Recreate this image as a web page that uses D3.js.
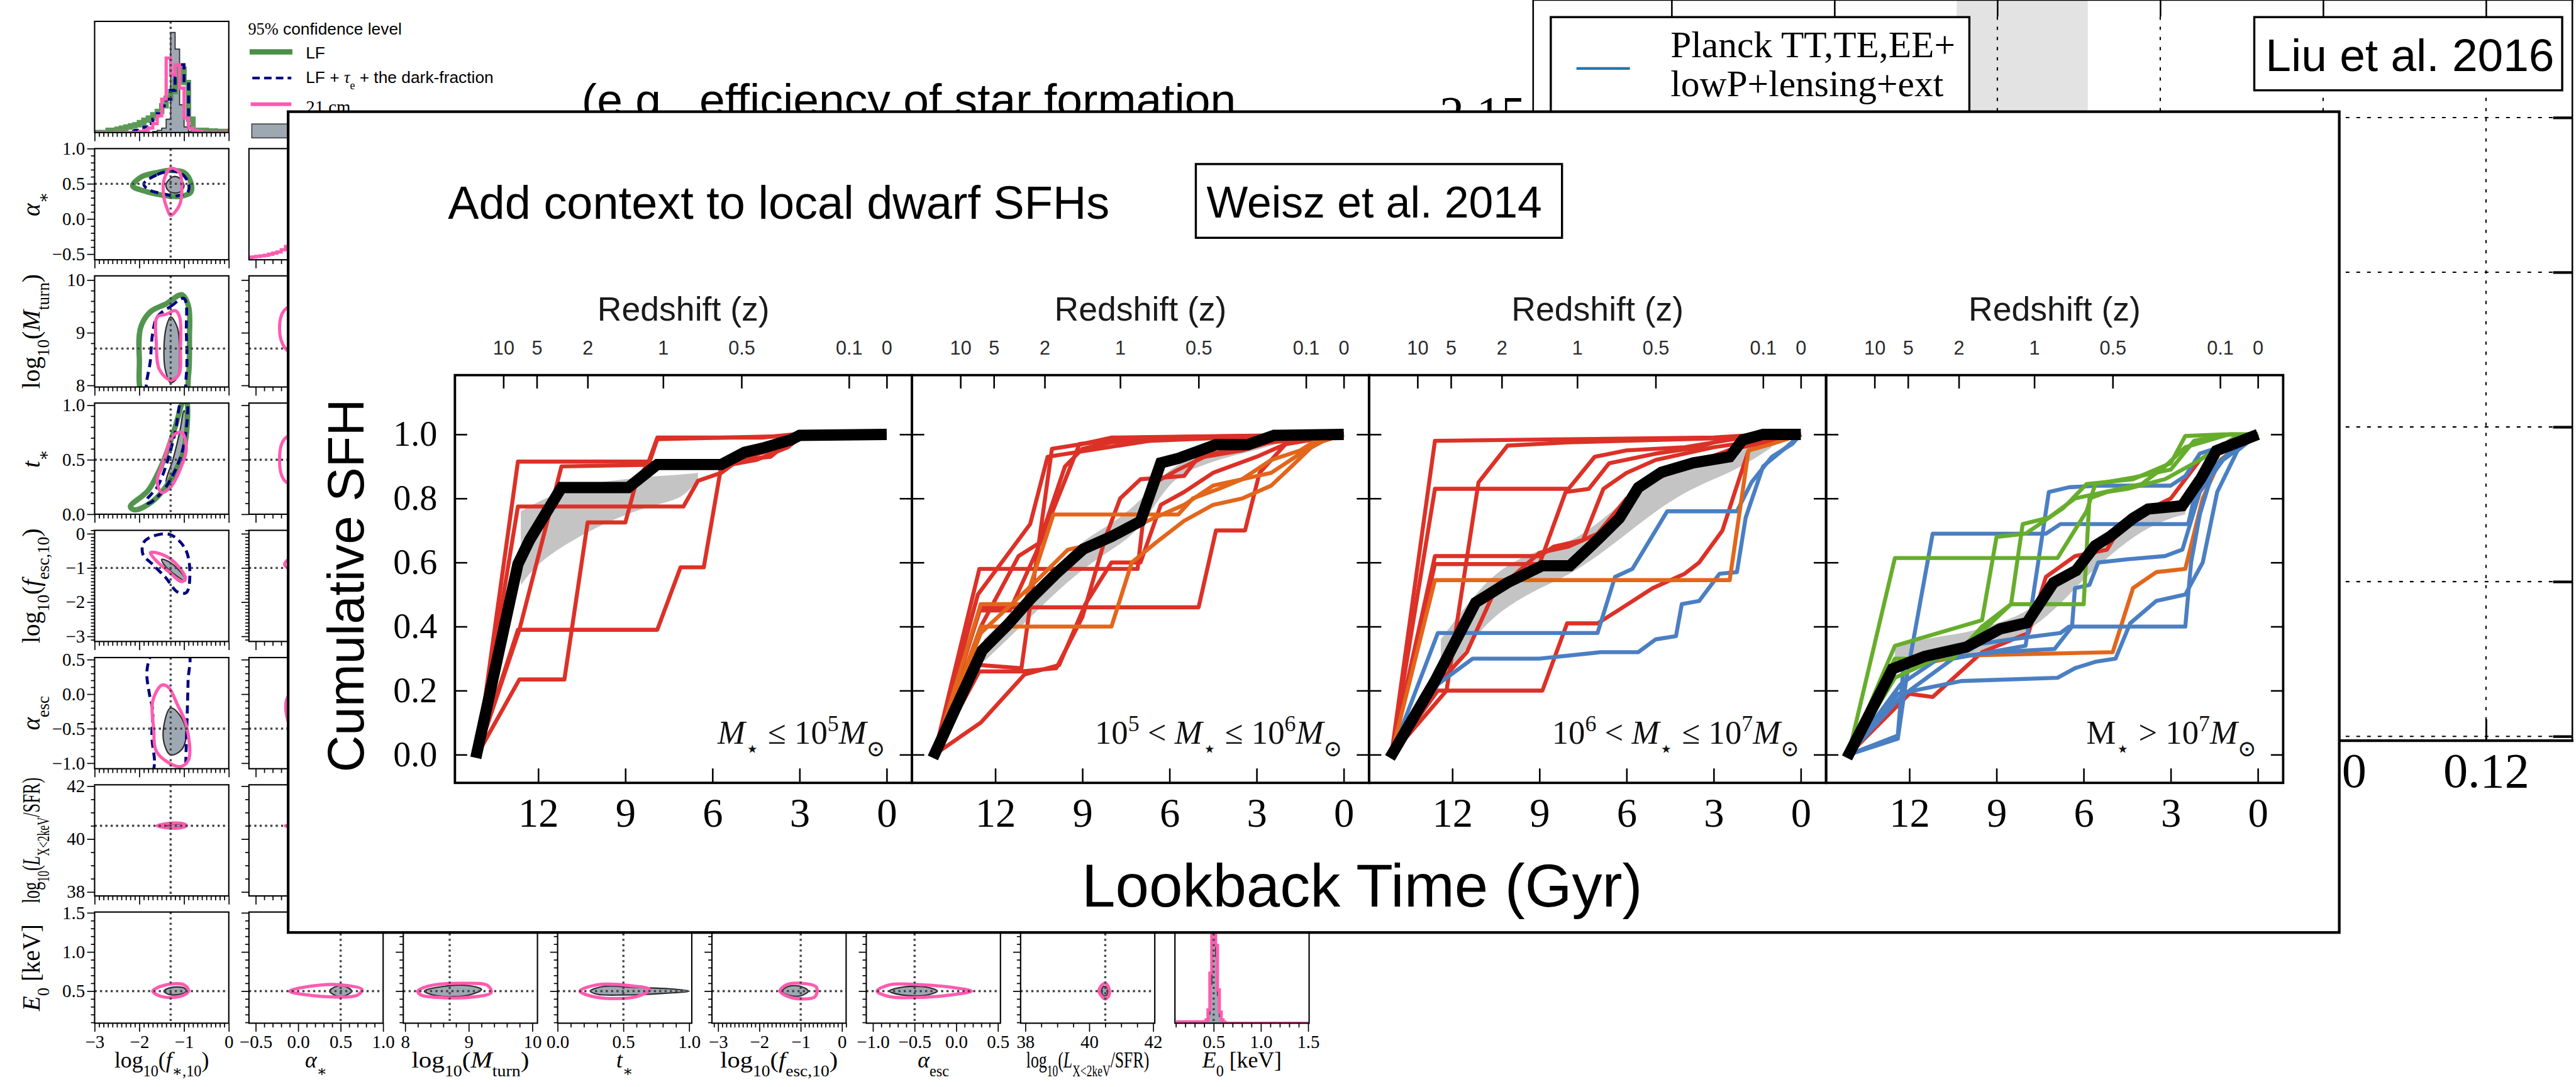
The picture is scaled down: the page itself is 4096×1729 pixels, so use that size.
<!DOCTYPE html>
<html>
<head>
<meta charset="utf-8">
<title>Add context to local dwarf SFHs</title>
<script src="https://cdn.jsdelivr.net/npm/d3@7/dist/d3.min.js"></script>
<style>
  html, body { margin: 0; padding: 0; background: #fff; overflow: hidden; }
  svg { display: block; }
</style>
</head>
<body>
<div id="chart"></div>
<script>
const width = 4096;
const height = 1729;
const scale = 0.85;   // everything below is laid out in the 4814 x 2032 reference units

const SERIF = "'Liberation Serif', 'DejaVu Serif', serif";
const SANS = "'Liberation Sans', Arial, sans-serif";

// ================= SFH panels (Weisz et al. 2014) =================
const gyrTicks = [12, 9, 6, 3, 0];
const sfhTicks = [0, 0.2, 0.4, 0.6, 0.8, 1.0];
const zTickLabels = ["10", "5", "2", "1", "0.5", "0.1", "0"];
const zTickGyr = [13.2, 12.05, 10.3, 7.7, 5.0, 1.3, 0];
const massLabels = [
  "<i>M</i><sub>⋆</sub> ≤ 10<sup>5</sup><i>M</i><sub>⊙</sub>",
  "10<sup>5</sup> &lt; <i>M</i><sub>⋆</sub> ≤ 10<sup>6</sup><i>M</i><sub>⊙</sub>",
  "10<sup>6</sup> &lt; <i>M</i><sub>⋆</sub> ≤ 10<sup>7</sup><i>M</i><sub>⊙</sub>",
  "M<sub>⋆</sub> &gt; 10<sup>7</sup><i>M</i><sub>⊙</sub>"
];

// panel 1: M <= 1e5
const p1Median = [[14.15,-0.01],[12.7,0.595],[12.3,0.67],[11.2,0.834],[8.9,0.834],[7.9,0.906],[5.7,0.906],[4.9,0.944],[4.2,0.959],[3.3,0.983],[3.0,0.997],[0,1.0]];
const p1BandT  = [12.6, 12.0, 11.0, 10.0, 9.0, 8.0, 7.0, 6.5];
const p1BandLo = [0.53, 0.60, 0.66, 0.71, 0.75, 0.78, 0.80, 0.86];
const p1BandHi = [0.76, 0.79, 0.83, 0.85, 0.86, 0.87, 0.875, 0.88];
const p1Red = [
  [[14.1,0],[12.7,0.915],[8.2,0.915],[7.9,0.99],[4.3,0.99],[3.2,1.0],[0,1.0]],
  [[14.1,0],[12.7,0.775],[7.0,0.775],[6.5,0.855],[5.7,0.88],[5.1,0.92],[4.0,0.93],[3.2,0.99],[0,1.0]],
  [[14.1,0],[12.7,0.39],[7.9,0.39],[7.1,0.585],[6.3,0.585],[5.7,0.90],[4.5,0.92],[3.4,0.96],[3.0,0.99],[0,1.0]],
  [[14.1,0],[12.65,0.235],[11.1,0.235],[10.3,0.725],[9.0,0.725],[8.6,0.86],[8.2,0.91],[6.0,0.91],[4.8,0.93],[3.6,0.96],[3.0,0.99],[0,1.0]],
  [[14.1,0],[12.65,0.39],[11.2,0.90],[8.2,0.905],[7.9,0.985],[3.3,0.995],[0,1.0]]
];

// panel 2: 1e5 < M <= 1e6
const p2Median = [[14.15,-0.01],[12.45,0.326],[11.6,0.403],[10.76,0.489],[9.9,0.566],[8.97,0.642],[8.0,0.681],[7.0,0.729],[6.3,0.911],[5.7,0.925],[4.4,0.968],[3.3,0.968],[2.4,0.997],[0,1.0]];
const p2BandT  = [12.4, 11, 10, 9, 8, 7, 6, 5, 4, 3, 2];
const p2BandLo = [0.29, 0.41, 0.50, 0.58, 0.64, 0.70, 0.86, 0.90, 0.93, 0.95, 0.98];
const p2BandHi = [0.36, 0.48, 0.58, 0.67, 0.72, 0.79, 0.90, 0.93, 0.96, 0.97, 0.99];
const p2Red = [
  [[14.1,0],[12.55,0.58],[7.1,0.58],[6.9,0.74],[6.5,0.85],[5.7,0.89],[4.8,0.93],[3.5,0.95],[2.0,0.99],[0,1.0]],
  [[14.1,0],[12.55,0.26],[11.1,0.26],[9.9,0.27],[9.0,0.43],[8.2,0.68],[7.7,0.80],[7.0,0.86],[5.5,0.87],[5.0,0.93],[3.0,0.97],[1.0,0.99],[0,1.0]],
  [[14.1,0],[12.55,0.28],[11.1,0.27],[10.05,0.955],[9.0,0.97],[8.0,0.99],[0,1.0]],
  [[14.1,0],[12.55,0.45],[11.5,0.45],[10.6,0.63],[9.1,0.97],[7.0,0.99],[0,1.0]],
  [[14.1,0],[12.5,0.46],[5.0,0.46],[4.4,0.70],[3.4,0.70],[2.9,0.88],[2.0,0.97],[0,1.0]],
  [[14.1,0],[12.5,0.10],[11.0,0.25],[9.8,0.28],[8.9,0.47],[8.0,0.60],[7.0,0.60],[6.3,0.78],[5.5,0.82],[4.5,0.88],[3.0,0.93],[2.0,0.97],[0,1.0]],
  [[14.1,0],[12.5,0.40],[11.2,0.62],[10.5,0.66],[9.6,0.90],[9.0,0.955],[8.0,0.975],[4.0,0.99],[0,1.0]],
  [[14.1,0],[12.6,0.50],[10.8,0.72],[10.2,0.93],[6.0,0.99],[0,1.0]]
];
const p2Orange = [
  [[14.1,0],[12.5,0.47],[11.0,0.47],[10.0,0.75],[5.7,0.75],[5.2,0.80],[4.3,0.83],[3.5,0.86],[2.5,0.92],[1.5,0.95],[0.8,0.99],[0,1.0]],
  [[14.1,0],[12.5,0.40],[8.0,0.40],[7.3,0.60],[6.5,0.66],[5.5,0.73],[4.5,0.78],[3.5,0.80],[2.5,0.84],[1.8,0.90],[1.0,0.97],[0,1.0]],
  [[14.1,0],[12.5,0.38],[10.5,0.55],[9.5,0.64],[8.5,0.66],[7.5,0.70],[6.5,0.74],[5.5,0.78],[4.5,0.84],[3.5,0.86],[2.5,0.88],[1.5,0.94],[0.7,0.98],[0,1.0]]
];

// panel 3: 1e6 < M <= 1e7
const p3Median = [[14.15,-0.01],[12.6,0.23],[11.2,0.475],[10.1,0.537],[8.9,0.59],[7.95,0.59],[7.0,0.671],[6.25,0.738],[5.6,0.834],[4.8,0.882],[3.7,0.911],[2.45,0.93],[2.0,0.983],[1.3,1.0],[0,1.0]];
const p3BandT  = [12.4, 11, 10, 9, 8, 7, 6, 5, 4, 3, 2, 1];
const p3BandLo = [0.22, 0.40, 0.47, 0.52, 0.56, 0.62, 0.69, 0.76, 0.82, 0.86, 0.90, 0.96];
const p3BandHi = [0.36, 0.53, 0.60, 0.64, 0.66, 0.72, 0.80, 0.86, 0.89, 0.92, 0.95, 0.99];
const p3Red = [
  [[14.1,0],[12.6,0.98],[8.0,0.985],[3.0,0.99],[1.3,1.0],[0,1.0]],
  [[14.1,0],[12.6,0.83],[8.0,0.83],[7.1,0.93],[6.0,0.95],[4.0,0.96],[2.0,0.99],[0,1.0]],
  [[14.1,0],[12.2,0.20],[11.1,0.85],[10.1,0.965],[8.0,0.975],[2.0,0.99],[0,1.0]],
  [[14.1,0],[12.6,0.595],[9.0,0.595],[8.1,0.82],[7.3,0.83],[6.6,0.91],[5.0,0.94],[3.5,0.96],[2.5,0.99],[0,1.0]],
  [[14.1,0],[12.5,0.20],[8.9,0.20],[8.05,0.41],[7.0,0.41],[6.3,0.45],[5.1,0.52],[4.0,0.565],[3.5,0.60],[2.7,0.70],[2.2,0.84],[1.8,0.95],[0,1.0]],
  [[14.1,0],[12.5,0.22],[11.5,0.32],[10.6,0.50],[10.0,0.55],[9.0,0.63],[8.0,0.65],[7.0,0.69],[6.0,0.80],[5.0,0.86],[4.0,0.90],[2.5,0.95],[0,1.0]],
  [[14.1,0],[12.6,0.62],[9.0,0.62],[8.5,0.65],[7.5,0.67],[6.8,0.83],[6.0,0.88],[5.0,0.92],[3.0,0.96],[0,1.0]]
];
const p3Orange = [
  [[14.1,0],[12.6,0.545],[2.45,0.545],[1.8,0.95],[1.0,0.97],[0,1.0]]
];
const p3Blue = [
  [[14.1,0],[12.5,0.38],[7.0,0.38],[6.4,0.555],[5.8,0.58],[4.6,0.76],[2.2,0.76],[1.7,0.85],[1.0,0.93],[0.3,0.97],[0,1.0]],
  [[14.1,0],[12.5,0.22],[11.3,0.30],[9.0,0.30],[6.9,0.32],[5.6,0.32],[5.0,0.36],[4.3,0.37],[4.1,0.47],[3.5,0.48],[2.8,0.565],[2.2,0.57],[1.9,0.74],[1.3,0.90],[0.5,0.96],[0,1.0]]
];

// panel 4: M > 1e7
const p4Median = [[14.15,-0.01],[12.58,0.268],[11.47,0.307],[10.04,0.336],[8.87,0.393],[7.95,0.412],[7.04,0.537],[6.26,0.575],[5.61,0.652],[5.09,0.681],[4.3,0.738],[3.78,0.767],[2.61,0.777],[1.96,0.863],[1.43,0.949],[0,1.0]];
const p4BandT  = [12.5, 11, 10, 9, 8, 7, 6, 5, 4, 3, 2.5];
const p4BandLo = [0.27, 0.30, 0.31, 0.34, 0.38, 0.45, 0.55, 0.63, 0.70, 0.74, 0.75];
const p4BandHi = [0.34, 0.37, 0.38, 0.41, 0.44, 0.52, 0.62, 0.71, 0.76, 0.79, 0.80];
const p4Blue = [
  [[14.1,0],[12.4,0.05],[12.1,0.24],[11.2,0.69],[7.3,0.69],[6.8,0.72],[2.4,0.72],[2.2,0.80],[1.5,0.90],[0.5,0.98],[0,1.0]],
  [[14.1,0],[12.4,0.19],[10.2,0.23],[6.9,0.24],[6.3,0.27],[5.6,0.29],[4.9,0.30],[4.4,0.41],[3.5,0.48],[2.5,0.50],[1.9,0.60],[1.4,0.82],[0.7,0.95],[0,1.0]],
  [[14.1,0],[12.3,0.22],[11.0,0.30],[9.0,0.32],[7.0,0.33],[6.4,0.40],[6.3,0.52],[5.8,0.53],[5.5,0.60],[4.5,0.61],[3.2,0.62],[2.6,0.64],[2.0,0.82],[1.2,0.92],[0,1.0]],
  [[14.1,0],[12.3,0.18],[10.5,0.30],[8.0,0.34],[7.2,0.82],[6.5,0.835],[5.5,0.84],[3.0,0.84],[2.5,0.87],[2.0,0.94],[1.0,0.97],[0,1.0]],
  [[14.1,0],[12.4,0.06],[12.2,0.28],[10.0,0.34],[8.5,0.36],[6.8,0.38],[6.5,0.40],[2.5,0.40],[2.3,0.60],[2.0,0.75],[1.5,0.90],[0.6,0.97],[0,1.0]]
];
const p4Orange = [
  [[14.1,0],[12.5,0.27],[10.0,0.31],[5.0,0.32],[4.3,0.52],[3.5,0.57],[2.5,0.58],[1.9,0.80],[1.3,0.92],[0.3,0.99],[0,1.0]]
];
const p4Red = [
  [[14.1,0],[12.0,0.19],[11.2,0.18],[9.5,0.32],[7.9,0.38],[7.3,0.555],[6.3,0.62],[5.2,0.64],[4.6,0.73],[3.0,0.80],[2.0,0.92],[1.2,0.97],[0,1.0]]
];
const p4Green = [
  [[14.1,0],[12.5,0.614],[6.9,0.614],[5.9,0.76],[5.6,0.845],[4.3,0.865],[3.0,0.89],[2.2,0.98],[1.0,1.0],[0,1.0]],
  [[14.1,0],[12.5,0.34],[9.5,0.42],[9.0,0.68],[8.0,0.69],[6.7,0.77],[5.9,0.845],[4.3,0.86],[3.0,0.91],[2.5,0.995],[1.2,1.0],[0,1.0]],
  [[14.1,0],[12.5,0.24],[9.9,0.35],[8.5,0.47],[8.1,0.72],[7.2,0.74],[6.3,0.80],[4.0,0.845],[3.2,0.90],[2.5,0.96],[1.0,1.0],[0,1.0]],
  [[14.1,0],[12.5,0.30],[10.5,0.30],[9.5,0.40],[8.5,0.47],[6.0,0.47],[5.8,0.80],[5.2,0.82],[4.5,0.83],[3.2,0.86],[2.0,0.92],[0.8,0.99],[0,1.0]]
];

// ================= corner plot (background, left) =================
const cornerDomains = [[-3, 0], [-0.58, 1.0], [7.97, 10.08], [0, 1.02], [-3.15, 0.1], [-1.08, 0.53], [37.85, 42.05], [0.09, 1.51]];
const cornerTruth = [-1.3, 0.5, 8.7, 0.5, -1, -0.5, 40.5, 0.5];
const cornerMajor = [[-3, -2, -1, 0], [-0.5, 0, 0.5, 1.0], [8, 9, 10], [0, 0.5, 1.0], [-3, -2, -1, 0], [-1, -0.5, 0, 0.5], [38, 40, 42], [0.5, 1.0, 1.5]];
const cornerMinorStep = [0.1, 0.1, 0.2, 0.1, 0.1, 0.1, 0.5, 0.1];
const cornerTickFmt = ["d", ".1f", "d", ".1f", "d", ".1f", "d", ".1f"];
const cornerAxisLabels = [
  "log<sub>10</sub>(<i>f</i><sub>∗,10</sub>)",
  "<i>α</i><sub>∗</sub>",
  "log<sub>10</sub>(<i>M</i><sub>turn</sub>)",
  "<i>t</i><sub>∗</sub>",
  "log<sub>10</sub>(<i>f</i><sub>esc,10</sub>)",
  "<i>α</i><sub>esc</sub>",
  "log<sub>10</sub>(<i>L</i><sub>X&lt;2keV</sub>/SFR)",
  "<i>E</i><sub>0</sub> [keV]"
];

// marginal histograms
const fstarGreen = [0,0,0,0.02,0.02,0.03,0.04,0.05,0.06,0.07,0.09,0.11,0.13,0.16,0.19,0.24,0.31,0.37,0.46,0.57,0.45,0.12,0.02,0.02,0.02,0.015,0.015,0.01,0.01,0.01];
const fstarNavy  = [0,0,0,0,0,0,0,0,0.01,0.02,0.03,0.05,0.08,0.12,0.17,0.24,0.30,0.38,0.50,0.61,0.45,0.05,0.01,0,0,0,0,0,0,0];
const fstarPink  = [0,0,0,0,0,0,0,0,0,0,0.01,0.02,0.04,0.08,0.15,0.30,0.67,0.52,0.61,0.40,0.13,0.04,0.02,0.01,0,0,0,0,0,0];
const fstarGray  = [0,0,0,0,0,0,0,0,0,0,0,0,0,0.01,0.02,0.04,0.12,0.90,0.75,0.25,0.05,0.01,0,0,0,0,0,0,0,0];
const alphaPink  = [0.02,0.025,0.03,0.035,0.04,0.05,0.06,0.07,0.09,0.12,0.16,0.22,0.30,0.40,0.55,0.70,0.85,0.90,0.80,0.60,0.40,0.25,0.15,0.08,0.05,0.03,0.02,0.01,0.01,0.01,0.01,0.01];
const e0Edges = [0.10, 0.42, 0.44, 0.46, 0.48, 0.50, 0.52, 0.54, 0.56, 0.58, 0.60, 0.62, 1.50];
const e0Gray  = [0, 0.02, 0.08, 0.35, 0.95, 1.0, 0.6, 0.25, 0.06, 0.02, 0, 0];
const e0Pink  = [0.012, 0.03, 0.12, 0.45, 1.0, 0.95, 0.7, 0.3, 0.1, 0.03, 0.01, 0];

// 2D 95% contours, [x, y] in data units
const asGreen = [[-2.15,0.47],[-1.95,0.6],[-1.6,0.66],[-1.3,0.69],[-1.0,0.66],[-0.85,0.52],[-0.85,0.38],[-1.1,0.32],[-1.5,0.34],[-1.9,0.4]];
const asNavy  = [[-1.9,0.5],[-1.6,0.63],[-1.3,0.68],[-1.05,0.64],[-0.9,0.5],[-0.92,0.38],[-1.15,0.33],[-1.5,0.36],[-1.8,0.42]];
const asPink  = [[-1.45,0.55],[-1.3,0.72],[-1.1,0.66],[-1.05,0.45],[-1.1,0.2],[-1.3,0.05],[-1.38,0.15],[-1.45,0.3]];
const asGray  = [[-1.4,0.5],[-1.25,0.6],[-1.1,0.58],[-1.0,0.47],[-1.1,0.38],[-1.3,0.38],[-1.4,0.45]];
const mtGreen = [[-1.75,9.4],[-1.4,9.55],[-1.05,9.72],[-0.9,9.5],[-0.88,8.9],[-0.9,8.2],[-1.0,7.8],[-1.9,7.8],[-2.0,8.5],[-1.97,9.1]];
const mtNavy  = [[-1.6,9.3],[-1.3,9.5],[-1.0,9.65],[-0.95,9.0],[-0.95,8.2],[-1.05,7.8],[-1.8,7.8],[-1.75,8.5],[-1.7,9.0]];
const mtPink  = [[-1.6,9.3],[-1.4,9.35],[-1.2,9.42],[-1.1,9.3],[-1.08,8.7],[-1.12,8.2],[-1.3,8.1],[-1.55,8.3],[-1.62,8.8]];
const mtGray  = [[-1.4,9.1],[-1.3,9.3],[-1.15,9.1],[-1.1,8.6],[-1.15,8.15],[-1.3,8.05],[-1.42,8.3],[-1.45,8.7]];
const tsGreen = [[-2.2,0.07],[-1.8,0.22],[-1.45,0.5],[-1.2,0.8],[-1.0,1.05],[-0.95,1.05],[-1.0,0.6],[-1.3,0.32],[-1.7,0.12],[-2.1,0.04]];
const tsNavy  = [[-1.85,0.12],[-1.6,0.25],[-1.4,0.45],[-1.2,0.75],[-1.05,1.05],[-0.95,1.05],[-1.0,0.65],[-1.2,0.4],[-1.5,0.2],[-1.8,0.1]];
const tsPink  = [[-1.6,0.3],[-1.45,0.5],[-1.25,0.72],[-1.05,0.75],[-0.95,0.6],[-1.05,0.45],[-1.3,0.25],[-1.5,0.2]];
const tsGray  = [[-1.4,0.3],[-1.25,0.5],[-1.1,0.75],[-1.0,0.95],[-0.95,0.9],[-1.0,0.6],[-1.15,0.38],[-1.35,0.28]];
const feNavy  = [[-1.9,-0.25],[-1.65,-0.05],[-1.3,-0.03],[-0.97,-0.45],[-0.87,-1.15],[-0.95,-1.72],[-1.15,-1.7],[-1.4,-1.3],[-1.7,-0.9],[-1.92,-0.6]];
const fePink  = [[-1.75,-0.55],[-1.5,-0.6],[-1.2,-0.85],[-0.97,-1.3],[-1.05,-1.4],[-1.35,-1.1],[-1.65,-0.75]];
const feGray  = [[-1.5,-0.75],[-1.3,-0.85],[-1.0,-1.25],[-0.97,-1.38],[-1.2,-1.2],[-1.45,-0.9]];
const aeNavy  = [[-1.66,-1.2],[-1.66,-0.96],[-1.72,-0.62],[-1.7,-0.24],[-1.78,0.02],[-1.83,0.34],[-1.7,0.6],[-1.3,0.75],[-0.9,0.6],[-0.91,0.2],[-0.93,-0.3],[-0.96,-0.96],[-0.96,-1.2],[-1.3,-1.35]];
const aePink  = [[-1.7,-0.1],[-1.5,0.13],[-1.35,0.1],[-1.15,-0.15],[-0.95,-0.45],[-0.9,-0.95],[-1.1,-1.05],[-1.6,-0.85],[-1.68,-0.5]];
const aeGray  = [[-1.45,-0.45],[-1.3,-0.2],[-1.1,-0.3],[-0.95,-0.55],[-1.05,-0.8],[-1.3,-0.88],[-1.45,-0.7]];
const lxPink  = [[-1.6,40.5],[-1.3,40.6],[-1.0,40.57],[-0.95,40.5],[-1.1,40.42],[-1.4,40.43]];
const lxGray  = [[-1.4,40.5],[-1.2,40.56],[-1.05,40.53],[-1.1,40.46],[-1.35,40.46]];
const e0fsPink = [[-1.7,0.5],[-1.4,0.58],[-1.0,0.58],[-0.9,0.5],[-1.1,0.43],[-1.5,0.43]];
const e0fsGray = [[-1.45,0.5],[-1.3,0.545],[-1.0,0.54],[-0.95,0.5],[-1.1,0.46],[-1.35,0.46]];
const amPink  = [[-0.22,9.1],[-0.15,9.45],[0.2,9.55],[0.6,9.4],[0.8,9.0],[0.6,8.5],[0.2,8.4],[-0.15,8.7]];
const atPink  = [[-0.22,0.5],[-0.15,0.7],[0.2,0.75],[0.6,0.7],[0.8,0.5],[0.6,0.3],[0.2,0.25],[-0.15,0.3]];
const afPink  = [[-0.16,-0.9],[0,-0.6],[0.4,-0.55],[0.8,-0.8],[0.85,-1.1],[0.5,-1.3],[0.1,-1.2]];
const aaPink  = [[-0.14,-0.1],[0.05,0.15],[0.5,0.2],[0.85,-0.2],[0.8,-0.8],[0.4,-0.95],[0,-0.7]];
const alPink  = [[-0.15,40.5],[0.3,40.6],[0.8,40.55],[0.8,40.45],[0.3,40.4]];
const aePinkE0 = [[-0.1,0.5],[0.2,0.57],[0.5,0.58],[0.75,0.52],[0.7,0.45],[0.3,0.43]];
const aeGrayE0 = [[0.37,0.5],[0.45,0.56],[0.55,0.56],[0.63,0.5],[0.55,0.44],[0.45,0.44]];
const mePink = [[8.2,0.5],[8.4,0.57],[8.9,0.6],[9.3,0.57],[9.35,0.48],[9.0,0.42],[8.5,0.42],[8.25,0.45]];
const meGray = [[8.3,0.5],[8.6,0.56],[9.0,0.57],[9.2,0.52],[9.0,0.45],[8.5,0.44]];
const tePink = [[0.17,0.5],[0.3,0.58],[0.55,0.57],[0.7,0.52],[0.6,0.43],[0.3,0.42]];
const teGray = [[0.25,0.5],[0.35,0.56],[0.6,0.545],[0.85,0.53],[1.0,0.5],[0.8,0.47],[0.5,0.45],[0.3,0.46]];
const fePinkE0 = [[-1.5,0.5],[-1.35,0.58],[-1.0,0.6],[-0.62,0.55],[-0.65,0.43],[-1.0,0.4],[-1.35,0.44]];
const feGrayE0 = [[-1.45,0.5],[-1.3,0.56],[-1.0,0.56],[-0.82,0.5],[-1.0,0.44],[-1.3,0.45]];
const aeEsPinkE0 = [[-0.95,0.5],[-0.8,0.58],[-0.4,0.58],[0.0,0.54],[0.18,0.5],[0.0,0.46],[-0.4,0.42],[-0.8,0.43]];
const aeEsGrayE0 = [[-0.8,0.5],[-0.65,0.55],[-0.35,0.55],[-0.23,0.5],[-0.35,0.45],[-0.65,0.45]];
const lePink = [[40.3,0.5],[40.4,0.58],[40.5,0.6],[40.6,0.55],[40.62,0.45],[40.5,0.4],[40.4,0.43]];
const leGray = [[40.38,0.5],[40.45,0.56],[40.55,0.55],[40.58,0.5],[40.55,0.45],[40.45,0.44]];

// ================= Planck plot (background, right) =================
const planckXTicks = [0.02, 0.04, 0.06, 0.08, 0.10, 0.12];
const planckYTicks = [2.15, 2.10, 2.05, 2.00, 1.95];
const planckBand = [0.055, 0.0711];

// ---------------------------------------------------------------
const svg = d3.select("#chart").append("svg")
    .attr("width", width)
    .attr("height", height);
const defs = svg.append("defs");
svg.append("rect").attr("width", width).attr("height", height).attr("fill", "#fff");
const root = svg.append("g").attr("transform", `scale(${scale})`);

const colors = {
  red: "#dc3127", orange: "#e2661b", blue: "#4a7fc2", green: "#66ad2c",
  lf: "#4a8f46", navy: "#000080", pink: "#ff5bb0", gray: "#9ea8b2"
};

// small markup -> tspans
function rich(s) {
  return s
    .replace(/<sub>/g, '<tspan font-size="68%" baseline-shift="sub">')
    .replace(/<sup>/g, '<tspan font-size="68%" baseline-shift="super">')
    .replace(/<\/sub>|<\/sup>/g, "</tspan>")
    .replace(/<i>/g, '<tspan font-style="italic">')
    .replace(/<\/i>/g, "</tspan>");
}

function tidyAxis(sel, size, family, strokeW) {
  sel.attr("font-size", size).attr("font-family", family);
  sel.select(".domain").remove();
  sel.selectAll(".tick line").attr("stroke", "#000").attr("stroke-width", strokeW);
  sel.selectAll(".tick text").attr("fill", "#000");
  // drop the empty label nodes of unlabelled axes
  sel.selectAll(".tick text").filter(function () { return this.textContent === ""; }).remove();
}

// ================= corner plot =================
const corner = root.append("g");
const PW = 251, PH = 208;
const colLeft = i => 177 + 288.7 * i;
const rowTop = j => 40 + 238.1 * j;

function cornerPanel(r, c) {
  const x0 = colLeft(c), y0 = rowTop(r);
  const xs = d3.scaleLinear().domain(cornerDomains[c]).range([x0, x0 + PW]);
  const ys = r === c
    ? d3.scaleLinear().domain([0, 1]).range([y0 + PH, y0])
    : d3.scaleLinear().domain(cornerDomains[r]).range([y0 + PH, y0]);
  const id = `cp${r}${c}`;
  defs.append("clipPath").attr("id", id)
    .append("rect").attr("x", x0).attr("y", y0).attr("width", PW).attr("height", PH);
  const g = corner.append("g");
  const inner = g.append("g").attr("clip-path", `url(#${id})`);
  return { r, c, x0, y0, xs, ys, g, inner };
}

function cornerFrame(p) {
  const { r, c, x0, y0, xs, ys, g } = p;
  // truth crosshairs
  const dot = g.append("g").attr("stroke", "#444").attr("stroke-width", 4).attr("stroke-dasharray", "4,6");
  dot.append("line").attr("x1", xs(cornerTruth[c])).attr("x2", xs(cornerTruth[c])).attr("y1", y0).attr("y2", y0 + PH);
  if (r !== c) {
    dot.append("line").attr("x1", x0).attr("x2", x0 + PW).attr("y1", ys(cornerTruth[r])).attr("y2", ys(cornerTruth[r]));
  }
  g.append("rect").attr("x", x0).attr("y", y0).attr("width", PW).attr("height", PH)
    .attr("fill", "none").attr("stroke", "#000").attr("stroke-width", 2.5);

  const minorOf = i => {
    const [a, b] = cornerDomains[i], st = cornerMinorStep[i];
    return d3.range(Math.ceil(a / st - 1e-9) * st, b + 1e-9, st)
      .map(v => +v.toFixed(3))
      .filter(v => !cornerMajor[i].some(m => Math.abs(m - v) < 1e-6));
  };

  // bottom
  const bottomMinor = g.append("g").attr("transform", `translate(0,${y0 + PH})`)
    .call(d3.axisBottom(xs).tickValues(minorOf(c)).tickSize(8).tickFormat(""));
  tidyAxis(bottomMinor, 34, SERIF, 2);
  const bottom = g.append("g").attr("transform", `translate(0,${y0 + PH})`)
    .call(d3.axisBottom(xs).tickValues(cornerMajor[c]).tickSize(16).tickPadding(6)
      .tickFormat(r === 7 ? d3.format(cornerTickFmt[c]) : ""));
  tidyAxis(bottom, 34, SERIF, 2);

  if (r !== c) {
    const leftMinor = g.append("g").attr("transform", `translate(${x0},0)`)
      .call(d3.axisLeft(ys).tickValues(minorOf(r)).tickSize(7).tickFormat(""));
    tidyAxis(leftMinor, 34, SERIF, 2);
    const left = g.append("g").attr("transform", `translate(${x0},0)`)
      .call(d3.axisLeft(ys).tickValues(cornerMajor[r]).tickSize(14).tickPadding(4)
        .tickFormat(c === 0 ? d3.format(cornerTickFmt[r]) : ""));
    tidyAxis(left, 34, SERIF, 2);
  }

  if (r === 7) {
    const t = corner.append("text")
      .attr("x", x0 + PW / 2).attr("y", 1998)
      .attr("text-anchor", "middle").attr("font-family", SERIF).attr("font-size", 42)
      .html(rich(cornerAxisLabels[c]));
    if (c === 6) t.attr("textLength", 230).attr("lengthAdjust", "spacingAndGlyphs");
    if (c === 2 || c === 4) t.attr("textLength", 220).attr("lengthAdjust", "spacingAndGlyphs");
  }
  if (c === 0 && r > 0) {
    const t = corner.append("text")
      .attr("transform", `translate(74,${y0 + PH / 2}) rotate(-90)`)
      .attr("text-anchor", "middle").attr("font-family", SERIF).attr("font-size", 46)
      .html(rich(cornerAxisLabels[r]));
    if (r === 6) t.attr("textLength", 235).attr("lengthAdjust", "spacingAndGlyphs");
    if (r === 2 || r === 4) t.attr("textLength", 215).attr("lengthAdjust", "spacingAndGlyphs");
  }
}

function drawContour(p, pts, kind) {
  const line = d3.line().x(d => p.xs(d[0])).y(d => p.ys(d[1])).curve(d3.curveCatmullRomClosed.alpha(0.5));
  const path = p.inner.append("path").attr("d", line(pts));
  if (kind === "gray") {
    path.attr("fill", colors.gray).attr("stroke", "#2b2b2b").attr("stroke-width", 2.5);
  } else if (kind === "green") {
    path.attr("fill", "none").attr("stroke", colors.lf).attr("stroke-width", 10).attr("stroke-opacity", 0.95);
  } else if (kind === "navy") {
    path.attr("fill", "none").attr("stroke", colors.navy).attr("stroke-width", 5.5).attr("stroke-dasharray", "15,9");
  } else {
    path.attr("fill", "none").attr("stroke", colors.pink).attr("stroke-width", 6);
  }
}

function drawHist(p, edges, vals, kind) {
  const pts = vals.map((v, i) => [edges[i], v]);
  pts.push([edges[edges.length - 1], vals[vals.length - 1]]);
  if (kind === "gray") {
    const area = d3.area().x(d => p.xs(d[0])).y0(p.ys(0)).y1(d => p.ys(d[1])).curve(d3.curveStepAfter);
    p.inner.append("path").attr("d", area(pts)).attr("fill", colors.gray)
      .attr("stroke", "#2b2b2b").attr("stroke-width", 2);
    return;
  }
  const line = d3.line().x(d => p.xs(d[0])).y(d => p.ys(d[1])).curve(d3.curveStepAfter);
  const path = p.inner.append("path").attr("d", line(pts)).attr("fill", "none");
  if (kind === "green") path.attr("stroke", colors.lf).attr("stroke-width", 10).attr("stroke-opacity", 0.9);
  else if (kind === "navy") path.attr("stroke", colors.navy).attr("stroke-width", 5.5).attr("stroke-dasharray", "15,9");
  else path.attr("stroke", colors.pink).attr("stroke-width", 6);
}

const fstarEdges = d3.range(31).map(i => -3 + 0.1 * i);
const alphaEdges = d3.range(33).map(i => -0.6 + 0.05 * i);

const contourTable = [
  [1, 0, [[asGray, "gray"], [asGreen, "green"], [asNavy, "navy"], [asPink, "pink"]]],
  [2, 0, [[mtGray, "gray"], [mtGreen, "green"], [mtNavy, "navy"], [mtPink, "pink"]]],
  [3, 0, [[tsGray, "gray"], [tsGreen, "green"], [tsNavy, "navy"], [tsPink, "pink"]]],
  [4, 0, [[feGray, "gray"], [feNavy, "navy"], [fePink, "pink"]]],
  [5, 0, [[aeGray, "gray"], [aeNavy, "navy"], [aePink, "pink"]]],
  [6, 0, [[lxGray, "gray"], [lxPink, "pink"]]],
  [7, 0, [[e0fsGray, "gray"], [e0fsPink, "pink"]]],
  [2, 1, [[amPink, "pink"]]],
  [3, 1, [[atPink, "pink"]]],
  [4, 1, [[afPink, "pink"]]],
  [5, 1, [[aaPink, "pink"]]],
  [6, 1, [[alPink, "pink"]]],
  [7, 1, [[aeGrayE0, "gray"], [aePinkE0, "pink"]]],
  [7, 2, [[meGray, "gray"], [mePink, "pink"]]],
  [7, 3, [[teGray, "gray"], [tePink, "pink"]]],
  [7, 4, [[feGrayE0, "gray"], [fePinkE0, "pink"]]],
  [7, 5, [[aeEsGrayE0, "gray"], [aeEsPinkE0, "pink"]]],
  [7, 6, [[leGray, "gray"], [lePink, "pink"]]]
];

// diagonal panels
const h0 = cornerPanel(0, 0);
drawHist(h0, fstarEdges, fstarGray, "gray");
drawHist(h0, fstarEdges, fstarGreen, "green");
drawHist(h0, fstarEdges, fstarNavy, "navy");
drawHist(h0, fstarEdges, fstarPink, "pink");
cornerFrame(h0);

const h1 = cornerPanel(1, 1);
drawHist(h1, alphaEdges, alphaPink, "pink");
cornerFrame(h1);

const h7 = cornerPanel(7, 7);
drawHist(h7, e0Edges, e0Gray, "gray");
drawHist(h7, e0Edges, e0Pink, "pink");
cornerFrame(h7);

contourTable.forEach(([r, c, list]) => {
  const p = cornerPanel(r, c);
  list.forEach(([pts, kind]) => drawContour(p, pts, kind));
  cornerFrame(p);
});

// corner legend
const leg = corner.append("g").attr("font-family", SANS).attr("font-size", 31);
leg.append("text").attr("x", 464).attr("y", 65)
  .html('<tspan font-family="Liberation Serif">95%</tspan> confidence level');
leg.append("line").attr("x1", 467).attr("x2", 547).attr("y1", 97).attr("y2", 97)
  .attr("stroke", colors.lf).attr("stroke-width", 10);
leg.append("text").attr("x", 572).attr("y", 109).text("LF");
leg.append("line").attr("x1", 472).attr("x2", 545).attr("y1", 146).attr("y2", 146)
  .attr("stroke", colors.navy).attr("stroke-width", 5).attr("stroke-dasharray", "14,8");
leg.append("text").attr("x", 572).attr("y", 155)
  .html('LF + <tspan font-family="Liberation Serif" font-style="italic">τ</tspan><tspan font-family="Liberation Serif" font-size="68%" baseline-shift="sub">e</tspan> + the dark-fraction');
leg.append("line").attr("x1", 469).attr("x2", 545).attr("y1", 195).attr("y2", 195)
  .attr("stroke", colors.pink).attr("stroke-width", 7);
leg.append("text").attr("x", 572).attr("y", 212).attr("font-family", SERIF).attr("font-size", 34).text("21 cm");
leg.append("rect").attr("x", 471).attr("y", 232).attr("width", 110).attr("height", 26)
  .attr("fill", colors.gray).attr("stroke", "#444").attr("stroke-width", 2);

// background slide text
root.append("text").attr("x", 1088).attr("y", 216)
  .attr("font-family", SANS).attr("font-size", 86)
  .attr("textLength", 1224).attr("lengthAdjust", "spacingAndGlyphs")
  .text("(e.g., efficiency of star formation");

// ================= Planck plot =================
const planck = root.append("g");
const px = d3.scaleLinear().domain([0.003, 0.1306]).range([2868, 4812]);
const py = d3.scaleLinear().domain([1.9486, 2.188]).range([1386, 0]);

planck.append("rect")
  .attr("x", px(planckBand[0])).attr("width", px(planckBand[1]) - px(planckBand[0]))
  .attr("y", py(2.188)).attr("height", py(1.9486) - py(2.188))
  .attr("fill", "#e3e3e3");

planck.append("g").selectAll("line").data(planckXTicks).join("line")
  .attr("x1", d => px(d)).attr("x2", d => px(d)).attr("y1", 31).attr("y2", 1386)
  .attr("stroke", "#000").attr("stroke-width", 2.5).attr("stroke-dasharray", "6,13");
planck.append("g").selectAll("line").data(planckYTicks).join("line")
  .attr("x1", 2868).attr("x2", 4776).attr("y1", d => py(d)).attr("y2", d => py(d))
  .attr("stroke", "#000").attr("stroke-width", 2.5).attr("stroke-dasharray", "7,13");

const pTop = planck.append("g").call(d3.axisTop(px).tickValues(planckXTicks).tickSize(-31).tickFormat(""));
tidyAxis(pTop, 92, SERIF, 3);
const pBottom = planck.append("g").attr("transform", "translate(0,1386)")
  .call(d3.axisBottom(px).tickValues(planckXTicks).tickSize(-40).tickPadding(22).tickFormat(d3.format(".2f")));
tidyAxis(pBottom, 92, SERIF, 3.5);
const pRight = planck.append("g").attr("transform", "translate(4812,0)")
  .call(d3.axisRight(py).tickValues(planckYTicks).tickSize(-36).tickFormat(""));
tidyAxis(pRight, 92, SERIF, 5);
const pLeft = planck.append("g").attr("transform", "translate(2868,0)")
  .call(d3.axisLeft(py).tickValues(planckYTicks).tickSize(-30).tickPadding(14).tickFormat(d3.format(".2f")));
tidyAxis(pLeft, 92, SERIF, 3);
pLeft.selectAll(".tick text").attr("dy", "0.25em");

planck.append("line").attr("x1", 2868).attr("x2", 2868).attr("y1", 0).attr("y2", 1386).attr("stroke", "#000").attr("stroke-width", 3);
planck.append("line").attr("x1", 4812).attr("x2", 4812).attr("y1", 0).attr("y2", 1386).attr("stroke", "#000").attr("stroke-width", 3);
planck.append("line").attr("x1", 2868).attr("x2", 4814).attr("y1", 1386).attr("y2", 1386).attr("stroke", "#000").attr("stroke-width", 5);
planck.append("line").attr("x1", 2868).attr("x2", 4814).attr("y1", 0).attr("y2", 0).attr("stroke", "#000").attr("stroke-width", 3);

// Planck legend
planck.append("rect").attr("x", 2901).attr("y", 32).attr("width", 783).attr("height", 420)
  .attr("fill", "#fff").attr("stroke", "#000").attr("stroke-width", 4);
planck.append("line").attr("x1", 2949).attr("x2", 3049).attr("y1", 128).attr("y2", 128)
  .attr("stroke", "#1f77b4").attr("stroke-width", 5);
planck.append("text").attr("x", 3125).attr("y", 107).attr("font-family", SERIF).attr("font-size", 70).text("Planck TT,TE,EE+");
planck.append("text").attr("x", 3125).attr("y", 180).attr("font-family", SERIF).attr("font-size", 70).text("lowP+lensing+ext");

// Liu et al. 2016 tag
planck.append("rect").attr("x", 4217).attr("y", 32).attr("width", 576).attr("height", 137)
  .attr("fill", "#fff").attr("stroke", "#000").attr("stroke-width", 4);
planck.append("text").attr("x", 4238).attr("y", 133).attr("font-family", SANS).attr("font-size", 86).text("Liu et al. 2016");

// ================= main Weisz et al. 2014 box =================
const weisz = root.append("g");
weisz.append("rect").attr("x", 539).attr("y", 209).attr("width", 3837).attr("height", 1536)
  .attr("fill", "#fff").attr("stroke", "#000").attr("stroke-width", 5);

weisz.append("text").attr("x", 838).attr("y", 409)
  .attr("font-family", SANS).attr("font-size", 87).text("Add context to local dwarf SFHs");
weisz.append("rect").attr("x", 2237).attr("y", 307).attr("width", 685).attr("height", 138)
  .attr("fill", "#fff").attr("stroke", "#000").attr("stroke-width", 4);
weisz.append("text").attr("x", 2257).attr("y", 407)
  .attr("font-family", SANS).attr("font-size", 82).text("Weisz et al. 2014");

const panelLeft = [851, 1706, 2561, 3416];
const panelW = 855, frameTop = 702, frameBottom = 1465;
const gyrDomain = [14.87, -0.87];
const sfhDomain = [-0.088, 1.185];

const sfhPanels = [
  { band: [p1BandT, p1BandLo, p1BandHi], sets: [[p1Red, "red"]], median: p1Median },
  { band: [p2BandT, p2BandLo, p2BandHi], sets: [[p2Red, "red"], [p2Orange, "orange"]], median: p2Median },
  { band: [p3BandT, p3BandLo, p3BandHi], sets: [[p3Red, "red"], [p3Blue, "blue"], [p3Orange, "orange"]], median: p3Median },
  { band: [p4BandT, p4BandLo, p4BandHi], sets: [[p4Red, "red"], [p4Orange, "orange"], [p4Blue, "blue"], [p4Green, "green"]], median: p4Median }
];

sfhPanels.forEach((p, i) => {
  const L = panelLeft[i];
  const x = d3.scaleLinear().domain(gyrDomain).range([L, L + panelW]);
  const y = d3.scaleLinear().domain(sfhDomain).range([frameBottom, frameTop]);
  const g = weisz.append("g");
  const id = `sfh${i}`;
  defs.append("clipPath").attr("id", id)
    .append("rect").attr("x", L).attr("y", frameTop).attr("width", panelW).attr("height", frameBottom - frameTop);
  const plot = g.append("g").attr("clip-path", `url(#${id})`);

  const band = d3.zip(p.band[0], p.band[1], p.band[2]);
  plot.append("path")
    .attr("d", d3.area().x(d => x(d[0])).y0(d => y(d[1])).y1(d => y(d[2])).curve(d3.curveBasis)(band))
    .attr("fill", "#c4c4c4");

  const line = d3.line().x(d => x(d[0])).y(d => y(d[1]));
  p.sets.forEach(([lines, col]) => {
    plot.append("g").selectAll("path").data(lines).join("path")
      .attr("d", line).attr("fill", "none")
      .attr("stroke", colors[col]).attr("stroke-width", 7.5).attr("stroke-linejoin", "round");
  });
  plot.append("path").attr("d", line(p.median)).attr("fill", "none")
    .attr("stroke", "#000").attr("stroke-width", 21).attr("stroke-linejoin", "miter");

  g.append("rect").attr("x", L).attr("y", frameTop).attr("width", panelW).attr("height", frameBottom - frameTop)
    .attr("fill", "none").attr("stroke", "#000").attr("stroke-width", 4.5);

  const ax = g.append("g").attr("transform", `translate(0,${frameBottom})`)
    .call(d3.axisBottom(x).tickValues(gyrTicks).tickSize(-27).tickPadding(28).tickFormat(d3.format("d")));
  tidyAxis(ax, 76, SERIF, 3);
  const top = g.append("g").attr("transform", `translate(0,${frameTop})`)
    .call(d3.axisTop(x).tickValues(zTickGyr).tickSize(-25).tickPadding(38).tickFormat((d, k) => zTickLabels[k]));
  tidyAxis(top, 36, SANS, 3);
  top.selectAll(".tick text").attr("fill", "#2a2a2a");
  const ay = g.append("g").attr("transform", `translate(${L},0)`)
    .call(d3.axisLeft(y).tickValues(sfhTicks).tickSize(-23).tickPadding(33)
      .tickFormat(i === 0 ? d3.format(".1f") : ""));
  tidyAxis(ay, 66, SERIF, 3);
  const ayr = g.append("g").attr("transform", `translate(${L + panelW},0)`)
    .call(d3.axisRight(y).tickValues(sfhTicks).tickSize(-23).tickFormat(""));
  tidyAxis(ayr, 66, SERIF, 3);

  g.append("text").attr("x", L + panelW / 2).attr("y", 600)
    .attr("text-anchor", "middle").attr("font-family", SANS).attr("font-size", 63).attr("fill", "#1a1a1a")
    .text("Redshift (z)");

  g.append("text").attr("x", L + panelW - 50).attr("y", 1392)
    .attr("text-anchor", "end").attr("font-family", SERIF).attr("font-size", 62).attr("fill", "#111")
    .html(rich(massLabels[i]));
});

weisz.append("text")
  .attr("transform", "translate(680,1096) rotate(-90)")
  .attr("text-anchor", "middle").attr("font-family", SANS).attr("font-size", 96)
  .text("Cumulative SFH");
weisz.append("text").attr("x", 2548).attr("y", 1697)
  .attr("text-anchor", "middle").attr("font-family", SANS).attr("font-size", 113)
  .text("Lookback Time (Gyr)");
</script>
</body>
</html>
